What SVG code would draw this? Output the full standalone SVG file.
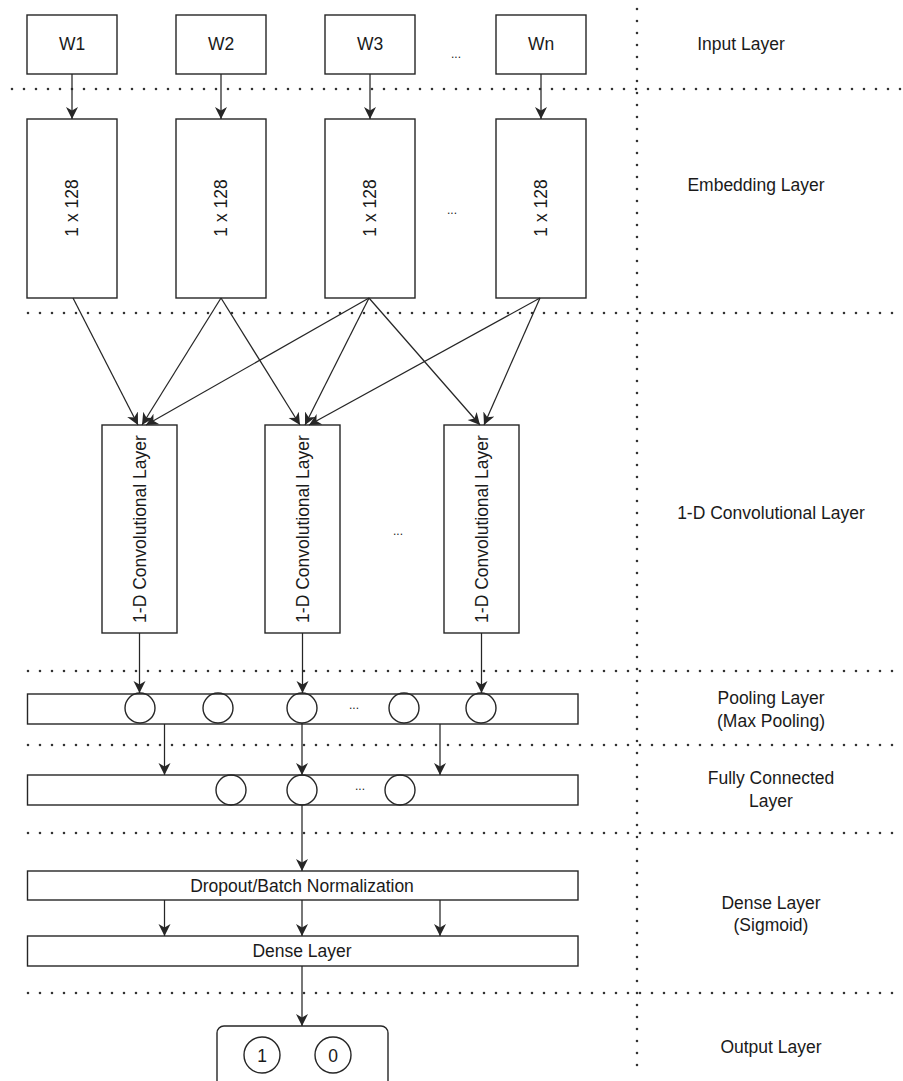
<svg xmlns="http://www.w3.org/2000/svg" width="903" height="1081" viewBox="0 0 903 1081">
<style>
.bx{fill:#fff;stroke:#262626;stroke-width:1.4}
.nd{fill:none;stroke:#262626;stroke-width:1.4}
.t{font-family:"Liberation Sans",Arial,Helvetica,sans-serif;font-size:17.5px;fill:#1a1a1a;text-anchor:middle;dominant-baseline:central}
.s{font-size:12px}
.dot{stroke:#333;stroke-width:2.6;stroke-linecap:round;stroke-dasharray:0 12;fill:none}
.c{stroke:#262626;stroke-width:1.25;fill:none;marker-end:url(#ah)}
</style>
<defs>
<marker id="ah" markerUnits="userSpaceOnUse" markerWidth="14" markerHeight="14" refX="12" refY="7" orient="auto">
<path d="M0,1 L12,7 L0,13 L3.5,7 Z" fill="#262626"/>
</marker>
</defs>
<rect width="903" height="1081" fill="#fff"/>
<g id="separators">
<line class="dot" x1="12" y1="89" x2="903" y2="89"/>
<line class="dot" x1="28" y1="313" x2="903" y2="313"/>
<line class="dot" x1="28" y1="671" x2="903" y2="671"/>
<line class="dot" x1="28" y1="745" x2="903" y2="745"/>
<line class="dot" x1="28" y1="833" x2="903" y2="833"/>
<line class="dot" x1="28" y1="993" x2="903" y2="993"/>
<line class="dot" x1="637" y1="9" x2="637" y2="1076"/>
</g>
<g id="layer-labels">
<text class="t" x="741" y="44">Input Layer</text>
<text class="t" x="756" y="185">Embedding Layer</text>
<text class="t" x="771" y="513">1-D Convolutional Layer</text>
<text class="t" x="771" y="698">Pooling Layer</text>
<text class="t" x="771" y="721">(Max Pooling)</text>
<text class="t" x="771" y="778">Fully Connected</text>
<text class="t" x="771" y="801">Layer</text>
<text class="t" x="771" y="903">Dense Layer</text>
<text class="t" x="771" y="925">(Sigmoid)</text>
<text class="t" x="771" y="1047">Output Layer</text>
</g>
<g id="input-w1"><rect class="bx" x="27" y="15" width="90" height="59"/><text class="t" x="72" y="44">W1</text></g>
<g id="input-w2"><rect class="bx" x="176" y="15" width="90" height="59"/><text class="t" x="221" y="44">W2</text></g>
<g id="input-w3"><rect class="bx" x="325" y="15" width="90" height="59"/><text class="t" x="370" y="44">W3</text></g>
<g id="input-dots"><text class="t s" x="456" y="54">...</text></g>
<g id="input-wn"><rect class="bx" x="496" y="15" width="90" height="59"/><text class="t" x="541" y="44">Wn</text></g>
<g id="emb-1"><rect class="bx" x="27" y="119" width="90" height="179"/><text class="t" x="72" y="208" transform="rotate(-90 72 208)">1 x 128</text></g>
<g id="emb-2"><rect class="bx" x="176" y="119" width="90" height="179"/><text class="t" x="221" y="208" transform="rotate(-90 221 208)">1 x 128</text></g>
<g id="emb-3"><rect class="bx" x="325" y="119" width="90" height="179"/><text class="t" x="370" y="208" transform="rotate(-90 370 208)">1 x 128</text></g>
<g id="emb-dots"><text class="t s" x="452" y="210">...</text></g>
<g id="emb-n"><rect class="bx" x="496" y="119" width="90" height="179"/><text class="t" x="541" y="208" transform="rotate(-90 541 208)">1 x 128</text></g>
<g id="conv-1"><rect class="bx" x="102" y="425" width="75" height="208"/><text class="t" x="139.5" y="529" transform="rotate(-90 139.5 529)">1-D Convolutional Layer</text></g>
<g id="conv-2"><rect class="bx" x="265" y="425" width="75" height="208"/><text class="t" x="302.5" y="529" transform="rotate(-90 302.5 529)">1-D Convolutional Layer</text></g>
<g id="conv-dots"><text class="t s" x="398" y="531">...</text></g>
<g id="conv-3"><rect class="bx" x="444" y="425" width="75" height="208"/><text class="t" x="481.5" y="529" transform="rotate(-90 481.5 529)">1-D Convolutional Layer</text></g>
<g id="pooling">
<rect class="bx" x="27.5" y="694" width="550.5" height="30"/>
<circle class="nd" cx="140" cy="708" r="15"/>
<circle class="nd" cx="218" cy="708" r="15"/>
<circle class="nd" cx="302" cy="708" r="15"/>
<text class="t s" x="354" y="705">...</text>
<circle class="nd" cx="404" cy="708" r="15"/>
<circle class="nd" cx="481" cy="708" r="15"/>
</g>
<g id="fully-connected">
<rect class="bx" x="27.5" y="775" width="550.5" height="30"/>
<circle class="nd" cx="231" cy="790" r="15"/>
<circle class="nd" cx="302" cy="790" r="15"/>
<text class="t s" x="360" y="786">...</text>
<circle class="nd" cx="400" cy="790" r="15"/>
</g>
<g id="dropout"><rect class="bx" x="27.5" y="871" width="550.5" height="29"/><text class="t" x="302" y="886">Dropout/Batch Normalization</text></g>
<g id="dense"><rect class="bx" x="27.5" y="936" width="550.5" height="30"/><text class="t" x="302" y="951">Dense Layer</text></g>
<g id="output">
<rect class="bx" x="217" y="1026" width="171" height="70" rx="7"/>
<circle class="nd" cx="262" cy="1055" r="18"/><text class="t" x="262" y="1056">1</text>
<circle class="nd" cx="333" cy="1055" r="18"/><text class="t" x="333" y="1056">0</text>
</g>
<g id="connectors">
<line class="c" x1="72" y1="74" x2="72" y2="119"/>
<line class="c" x1="221" y1="74" x2="221" y2="119"/>
<line class="c" x1="370" y1="74" x2="370" y2="119"/>
<line class="c" x1="541" y1="74" x2="541" y2="119"/>
<line class="c" x1="73" y1="298" x2="138" y2="425"/>
<line class="c" x1="221" y1="298" x2="142" y2="425"/>
<line class="c" x1="221" y1="298" x2="300" y2="425"/>
<line class="c" x1="369" y1="298" x2="146" y2="425"/>
<line class="c" x1="369" y1="298" x2="305" y2="425"/>
<line class="c" x1="369" y1="298" x2="480" y2="425"/>
<line class="c" x1="540" y1="298" x2="309" y2="425"/>
<line class="c" x1="540" y1="298" x2="484" y2="425"/>
<line class="c" x1="139.5" y1="633" x2="139.5" y2="693"/>
<line class="c" x1="302.5" y1="633" x2="302.5" y2="693"/>
<line class="c" x1="481.5" y1="633" x2="481.5" y2="693"/>
<line class="c" x1="164.5" y1="724" x2="164.5" y2="775"/>
<line class="c" x1="302" y1="723" x2="302" y2="775"/>
<line class="c" x1="440" y1="724" x2="440" y2="775"/>
<line class="c" x1="302" y1="805" x2="302" y2="871"/>
<line class="c" x1="164.5" y1="900" x2="164.5" y2="936"/>
<line class="c" x1="302" y1="900" x2="302" y2="936"/>
<line class="c" x1="440" y1="900" x2="440" y2="936"/>
<line class="c" x1="302" y1="966" x2="302" y2="1026"/>
</g>
</svg>
